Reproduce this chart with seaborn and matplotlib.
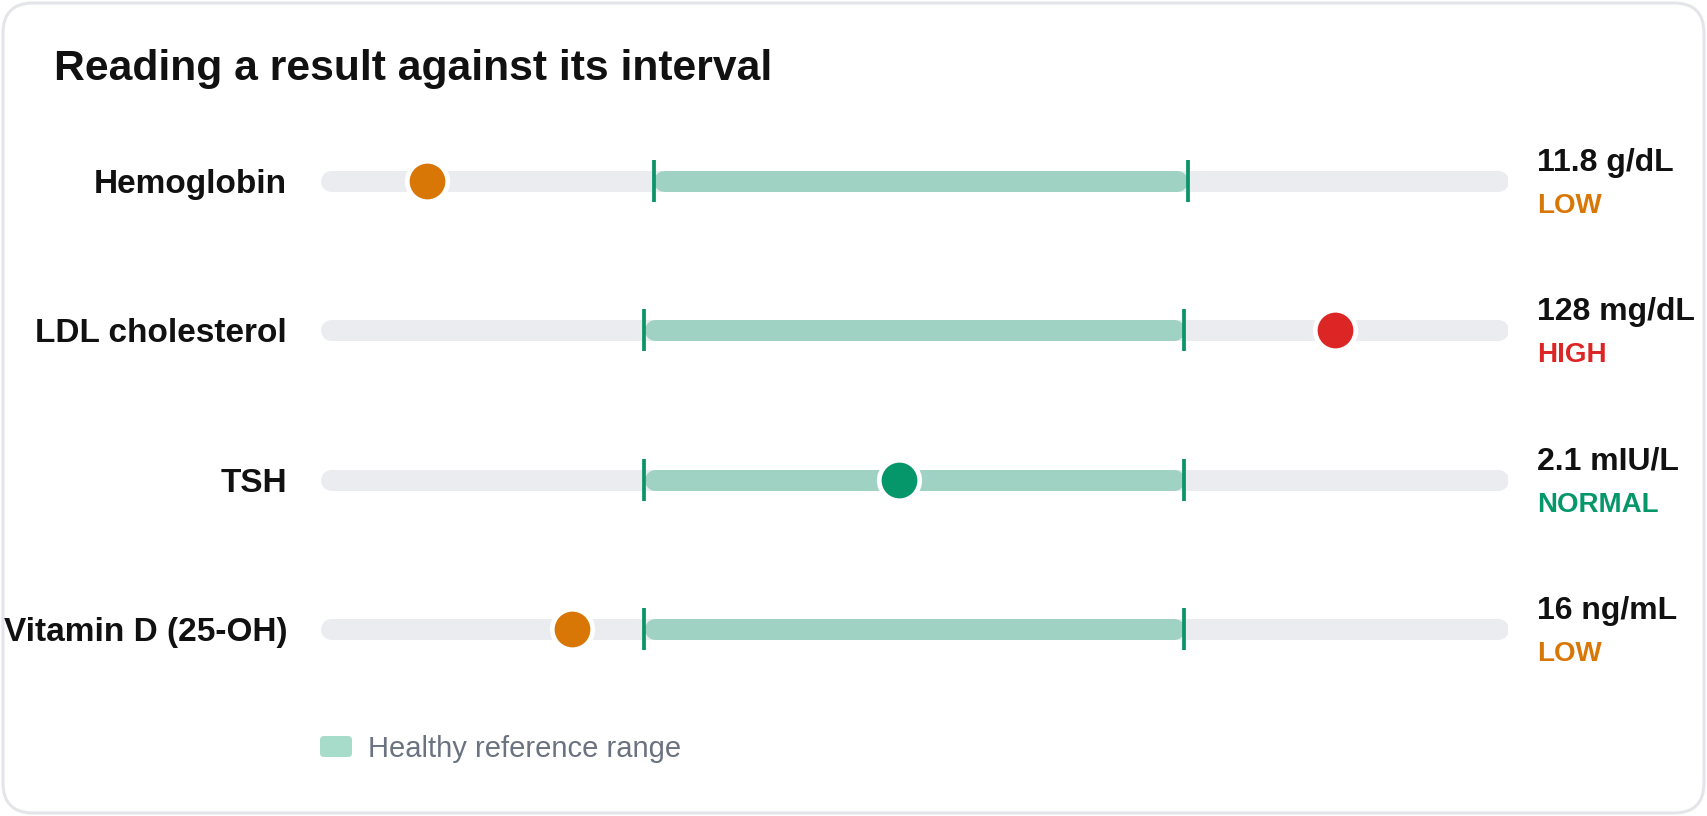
import matplotlib
matplotlib.use('Agg')
import matplotlib.pyplot as plt
import seaborn as sns
import pandas as pd
from matplotlib.patches import FancyBboxPatch

# data
tests = ['Hemoglobin', 'LDL cholesterol', 'TSH', 'Vitamin D (25-OH)']
units = ['g/dL', 'mg/dL', 'mIU/L', 'ng/mL']
values = [11.8, 128, 2.1, 16]
value_labels = ['11.8', '128', '2.1', '16']
ref_low = [13.5, 0, 0.4, 20]
ref_high = [17.5, 100, 4.0, 50]
status = ['LOW', 'HIGH', 'NORMAL', 'LOW']

status_colors = {'LOW': '#d97706', 'HIGH': '#dc2626', 'NORMAL': '#059669'}
TRACK = '#ebecf0'
RANGE = '#9fd2c2'
TICK = '#0b9468'

sns.set_theme(style='white')
plt.rcParams['font.family'] = ['Liberation Sans', 'DejaVu Sans']

W, H = 1707, 816
fig = plt.figure(figsize=(W / 100, H / 100), dpi=100)
fig.patch.set_facecolor('white')

# background axes in pixel units for card, title and text
bg = fig.add_axes([0, 0, 1, 1], zorder=0)
bg.set_xlim(0, W)
bg.set_ylim(H, 0)
bg.axis('off')
bg.add_patch(FancyBboxPatch((3, 3), W - 6, H - 6, boxstyle='round,pad=0,rounding_size=30',
                            fc='white', ec='#e4e5e9', lw=2.2))
bg.text(54, 80, 'Reading a result against its interval', fontsize=30.7, fontweight='bold',
        color='#111111', ha='left', va='baseline')

track_x0, track_x1 = 320, 1508
track_w = track_x1 - track_x0
row_y = [181, 330.3, 479.7, 629]
row_h = 60
cap_px = 10.5

for i, name in enumerate(tests):
    lo, hi, v = ref_low[i], ref_high[i], values[i]
    span = hi - lo
    dmin = min(lo - 0.6 * span, v - 0.2 * span)
    dmax = max(hi + 0.6 * span, v + 0.2 * span)
    r = cap_px * (dmax - dmin) / track_w

    yc = row_y[i]
    ax = fig.add_axes([track_x0 / W, (H - yc - row_h / 2) / H, track_w / W, row_h / H], zorder=2)
    ax.patch.set_alpha(0)
    ax.set_xlim(dmin, dmax)
    ax.set_ylim(-1, 1)
    ax.axis('off')

    ax.plot([dmin + r, dmax - r], [0, 0], color=TRACK, lw=15.1, solid_capstyle='round', zorder=1)
    ax.plot([lo + r, hi - r], [0, 0], color=RANGE, lw=15.1, solid_capstyle='round', zorder=2)
    for edge in (lo, hi):
        ax.plot([edge, edge], [-0.7, 0.7], color=TICK, lw=2.7, solid_capstyle='butt', zorder=3)

    df = pd.DataFrame({'x': [v], 'y': [0], 's': [status[i]]})
    sns.scatterplot(data=df, x='x', y='y', hue='s', palette=status_colors, s=850,
                    edgecolor='white', linewidth=3.4, legend=False, ax=ax, zorder=4)
    ax.set_xlabel('')
    ax.set_ylabel('')

    bg.text(287, yc + 12, name, fontsize=24, fontweight='bold', color='#111111',
            ha='right', va='baseline')
    bg.text(1537, yc - 10, f'{value_labels[i]} {units[i]}', fontsize=23, fontweight='bold',
            color='#111111', ha='left', va='baseline')
    bg.text(1537, yc + 32, status[i], fontsize=20, fontweight='bold',
            color=status_colors[status[i]], ha='left', va='baseline')

# legend
bg.add_patch(FancyBboxPatch((320, 736), 32, 21, boxstyle='round,pad=0,rounding_size=4',
                            fc='#a8dcca', ec='none'))
bg.text(368, 757, 'Healthy reference range', fontsize=21, color='#6b7280',
        ha='left', va='baseline')

fig.savefig('out.png', dpi=100, facecolor='white')
